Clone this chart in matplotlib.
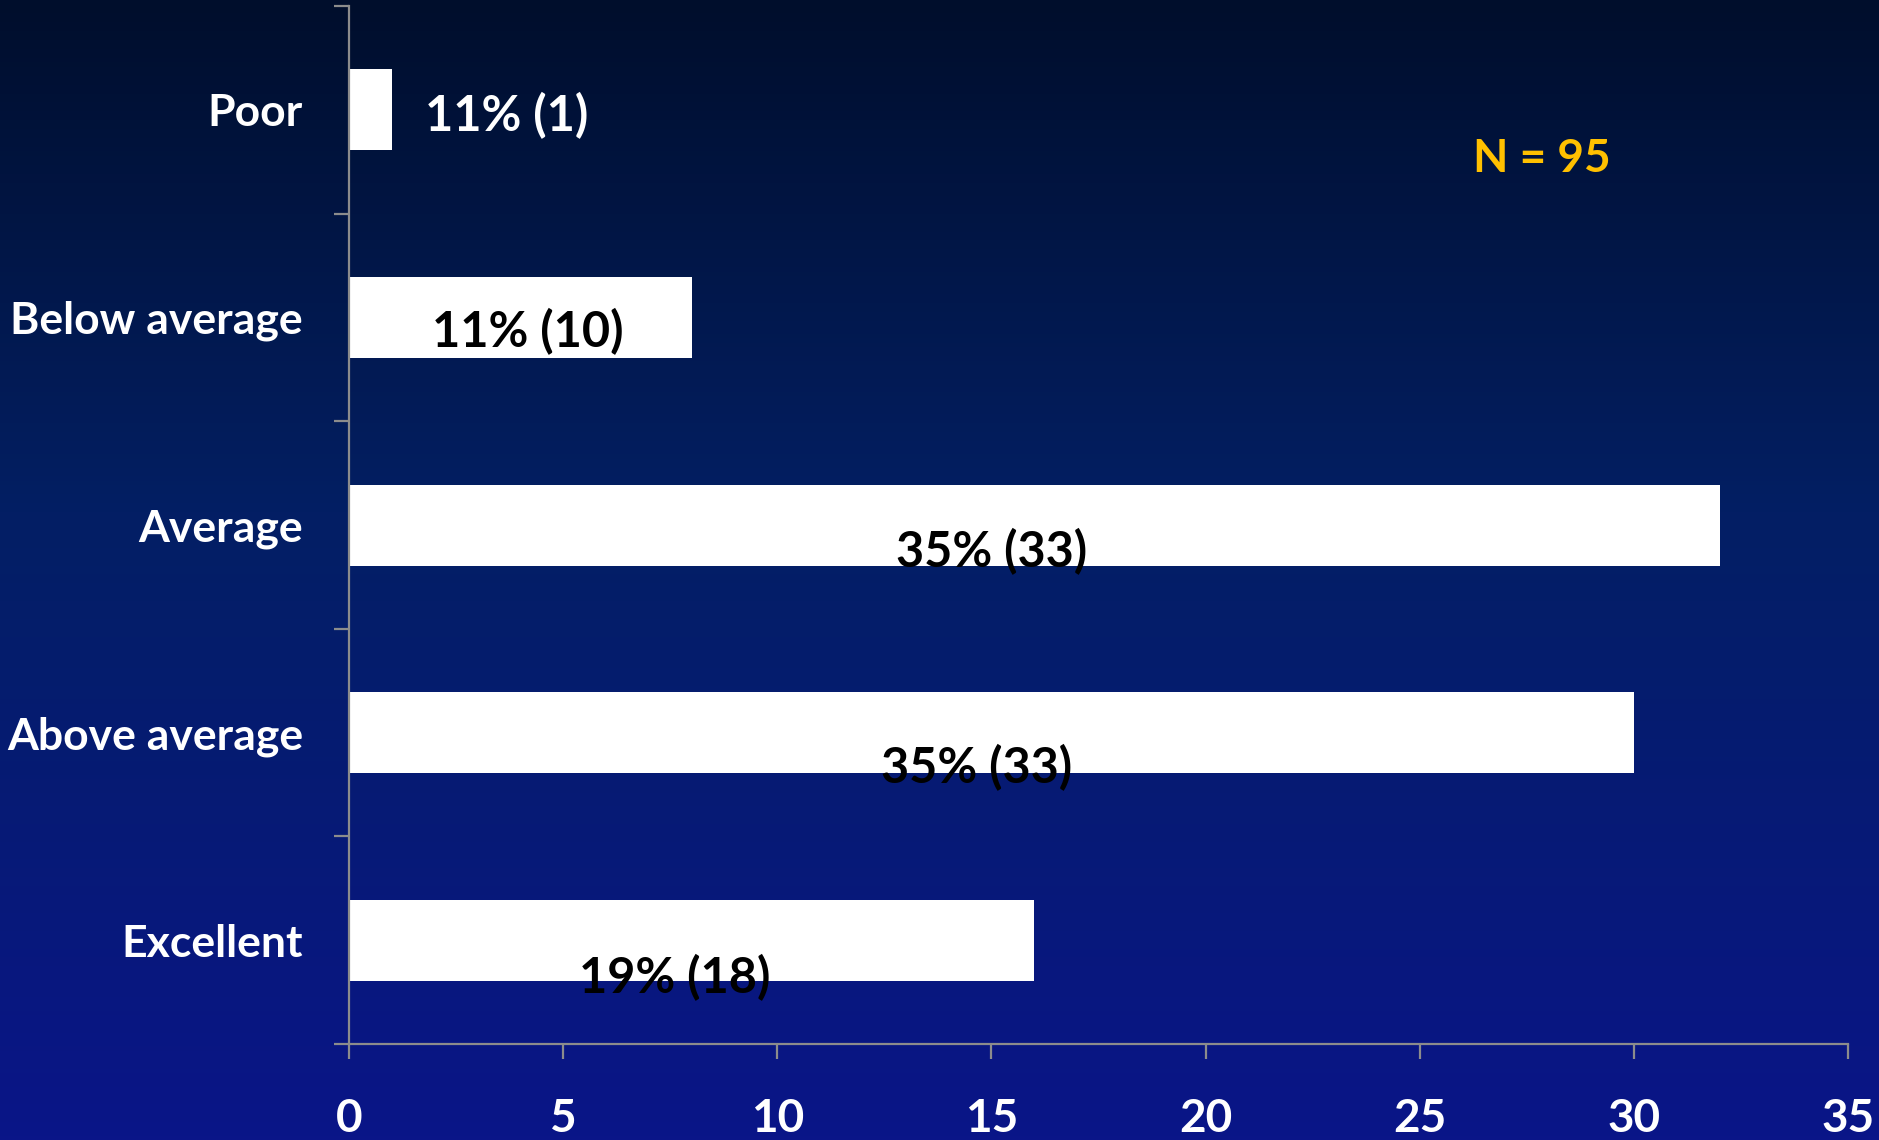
import numpy as np
import matplotlib

matplotlib.use("Agg")
import matplotlib.pyplot as plt
from matplotlib.colors import LinearSegmentedColormap

# Survey data
categories = ["Poor", "Below average", "Average", "Above average", "Excellent"]
bar_values = [1, 8, 32, 30, 16]
percents = [11, 11, 35, 35, 19]
counts = [1, 10, 33, 33, 18]
n_total = 95

x_ticks = [0, 5, 10, 15, 20, 25, 30, 35]

# where each value label sits (x in data units, y offset in category units)
label_x = [1.77, 4.18, 15.0, 14.66, 7.6]
label_dy = [0.03, 0.07, 0.13, 0.17, 0.18]

plt.rcParams["font.family"] = ["Lato", "DejaVu Sans"]
plt.rcParams["font.weight"] = "bold"

fig = plt.figure(figsize=(18.79, 11.40), dpi=100)

# background gradient, dark navy at the top to royal blue at the bottom
bg = fig.add_axes([0, 0, 1, 1], zorder=-10)
cmap = LinearSegmentedColormap.from_list(
    "bg", [(0.0, "#000E2C"), (0.45, "#031F64"), (1.0, "#0A1588")]
)
bg.imshow(np.linspace(0, 1, 256).reshape(-1, 1), aspect="auto", cmap=cmap,
          extent=[0, 1, 0, 1], origin="upper")
bg.set_axis_off()

ax = fig.add_axes([0.1857, 0.0842, 0.7978, 0.9105])
ax.patch.set_alpha(0)

y = np.arange(len(categories))
ax.barh(y, bar_values, height=0.39, color="white", edgecolor="none")

ax.set_xlim(0, 35)
ax.set_ylim(len(categories) - 0.5, -0.5)

axis_grey = "#8C8C8C"
for side in ["top", "right"]:
    ax.spines[side].set_visible(False)
for side in ["left", "bottom"]:
    ax.spines[side].set_color(axis_grey)
    ax.spines[side].set_linewidth(1.6)

ax.set_xticks(x_ticks)
ax.set_xticklabels([str(t) for t in x_ticks], fontsize=33, fontweight="bold",
                   color="white")
ax.tick_params(axis="x", direction="out", length=11, width=1.6, color=axis_grey,
               pad=28)

# ticks on the band boundaries, labels in the middle of each band
ax.set_yticks(np.arange(len(categories) + 1) - 0.5)
ax.set_yticklabels([])
ax.tick_params(axis="y", which="major", direction="out", length=11, width=1.6,
               color=axis_grey)
ax.set_yticks(y, minor=True)
ax.set_yticklabels(categories, minor=True, fontsize=32, fontweight="bold",
                   color="white")
ax.tick_params(axis="y", which="minor", length=0, pad=33)

for i in range(len(categories)):
    text = f"{percents[i]}% ({counts[i]})"
    if i == 0:
        ax.text(label_x[i], y[i] + label_dy[i], text, ha="left", va="center",
                fontsize=35, fontweight="bold", color="white")
    else:
        ax.text(label_x[i], y[i] + label_dy[i], text, ha="center", va="center",
                fontsize=35, fontweight="bold", color="black")

fig.text(1542 / 1879, 1 - 159 / 1140, f"N = {n_total}", ha="center", va="center",
         fontsize=33, fontweight="bold", color="#FFC000")

fig.savefig("out.png", dpi=100)
